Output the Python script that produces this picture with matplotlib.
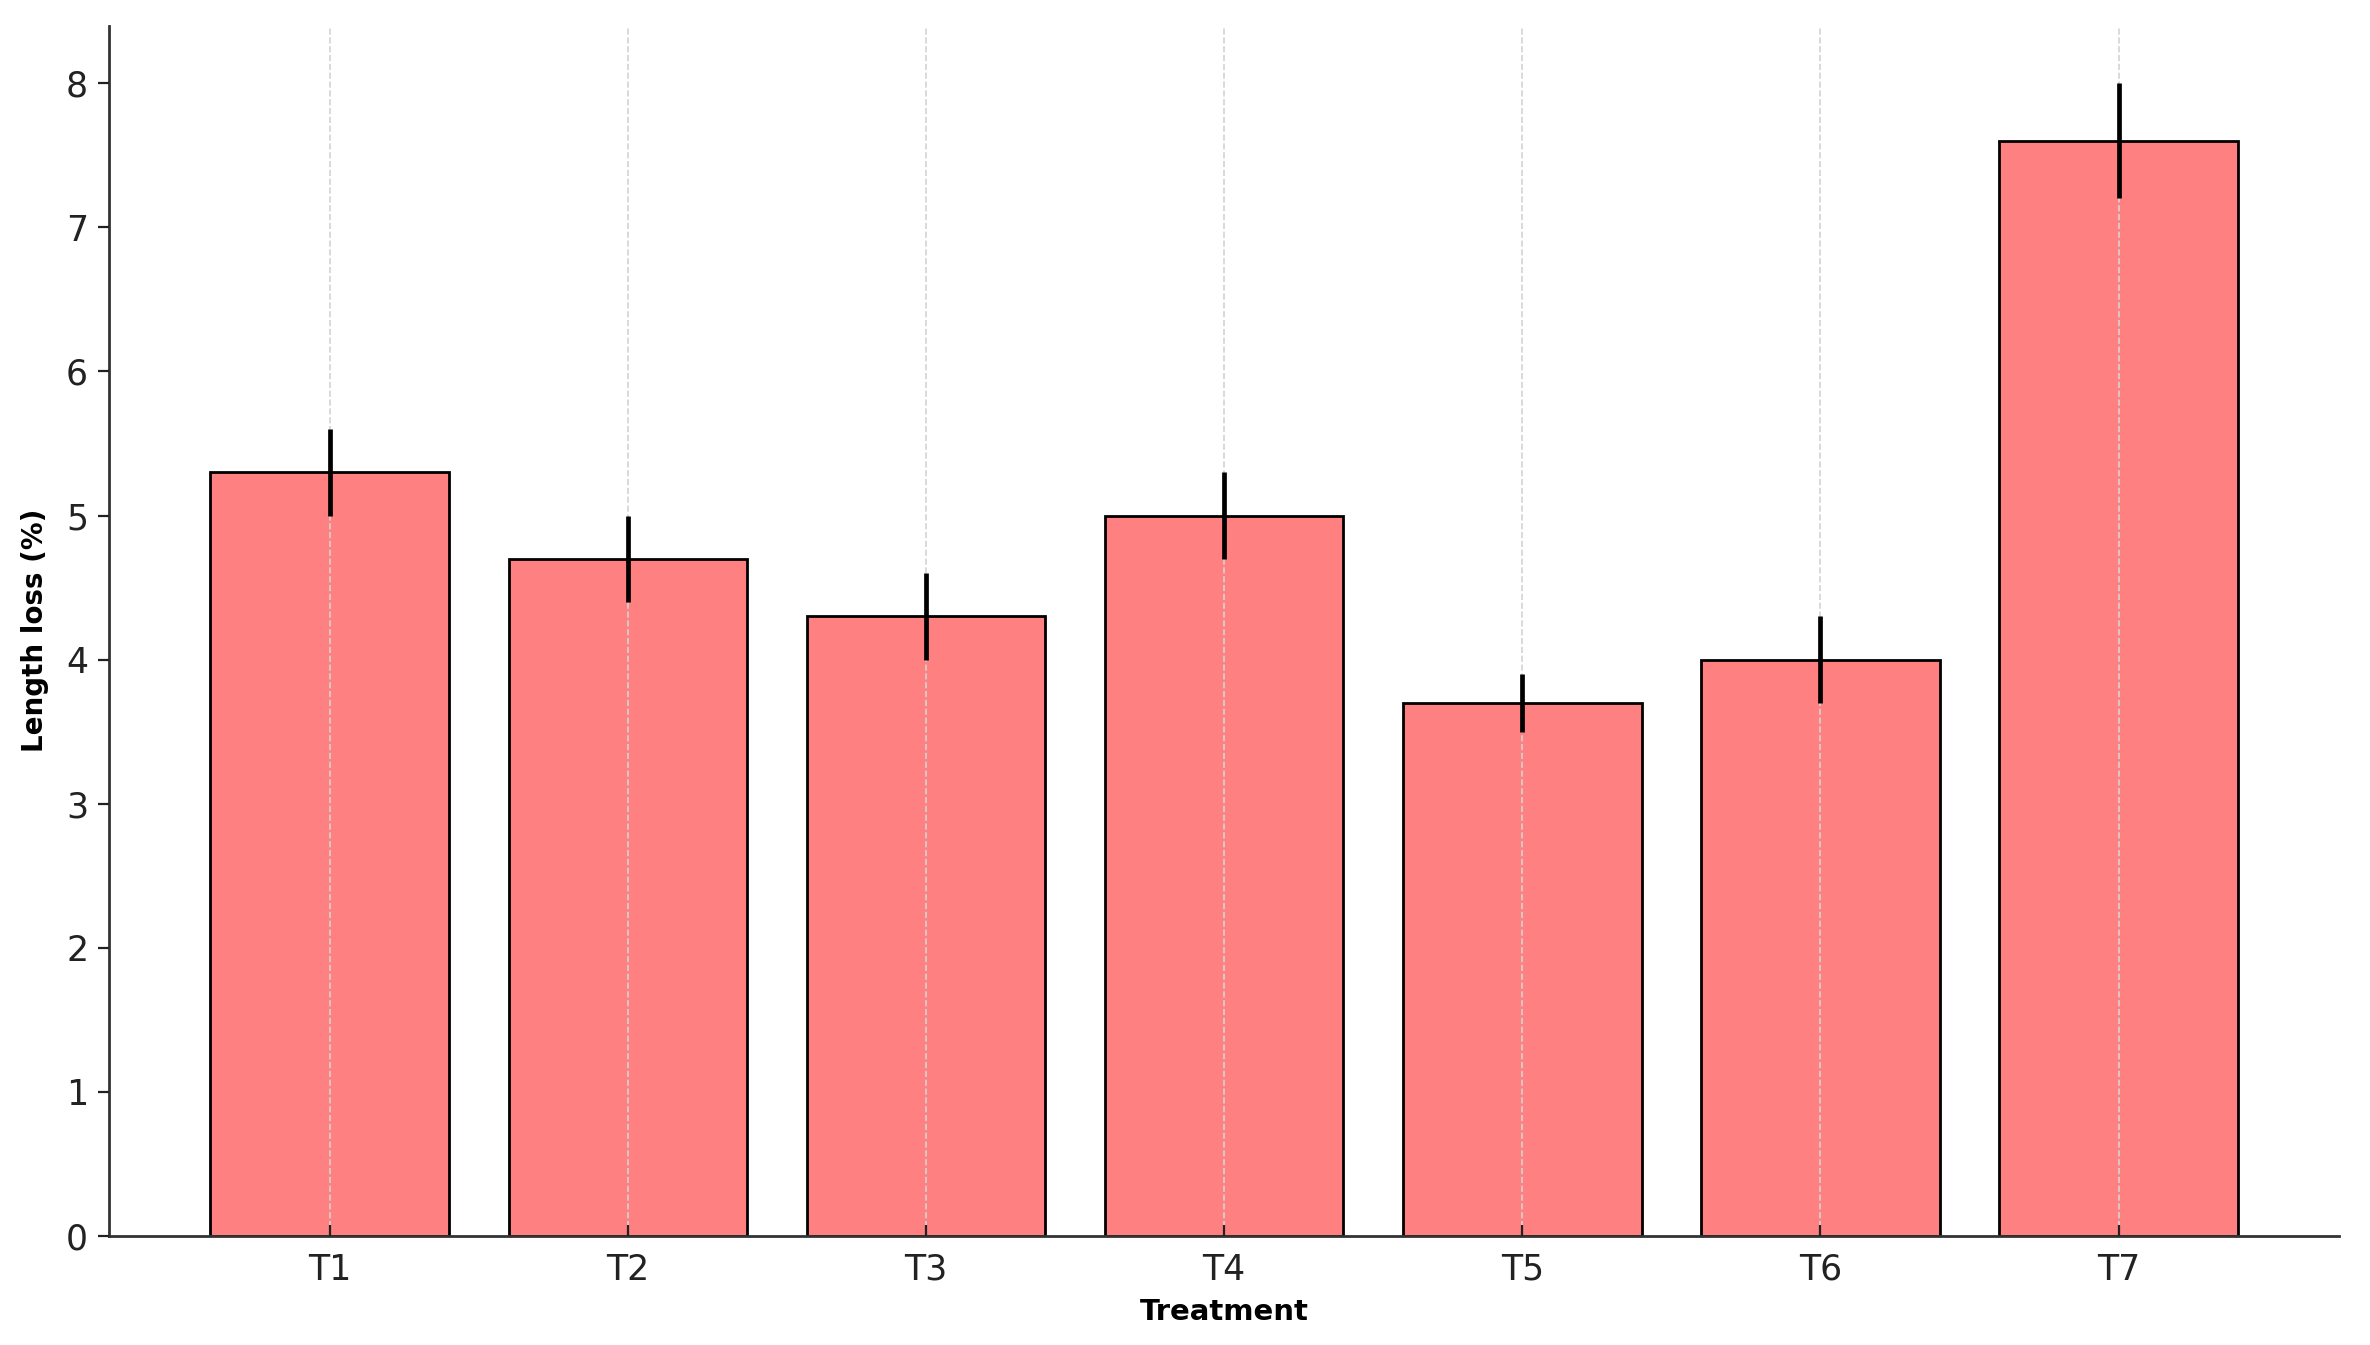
import matplotlib.pyplot as plt

treatments = ["T1", "T2", "T3", "T4", "T5", "T6", "T7"]
length_loss = [5.3, 4.7, 4.3, 5.0, 3.7, 4.0, 7.6]
errors = [0.3, 0.3, 0.3, 0.3, 0.2, 0.3, 0.4]

fig, ax = plt.subplots(figsize=(11.85, 6.725), dpi=200)
fig.subplots_adjust(left=0.046, right=0.987, top=0.981, bottom=0.081)

ax.bar(treatments, length_loss, color=(1.0, 0.5, 0.5),
       edgecolor="black", linewidth=1.0, zorder=1)
ax.grid(axis="x", linestyle="--", color="lightgray", linewidth=0.6, zorder=2)
ax.errorbar(treatments, length_loss, yerr=errors, fmt="none",
            ecolor="black", elinewidth=1.7, capsize=0, zorder=3)

ax.set_axisbelow(False)
ax.spines["top"].set_visible(False)
ax.spines["right"].set_visible(False)
for s in ["left", "bottom"]:
    ax.spines[s].set_color("#333333")
    ax.spines[s].set_linewidth(1.0)

ax.tick_params(axis="both", labelsize=12.5, colors="#222222", length=4)
ax.tick_params(axis="x", direction="in", pad=6)
ax.set_xlabel("Treatment", fontsize=10.5, fontweight="bold", labelpad=4)
ax.set_ylabel("Length loss (%)", fontsize=10, fontweight="bold", labelpad=6)

fig.savefig("out.png")
